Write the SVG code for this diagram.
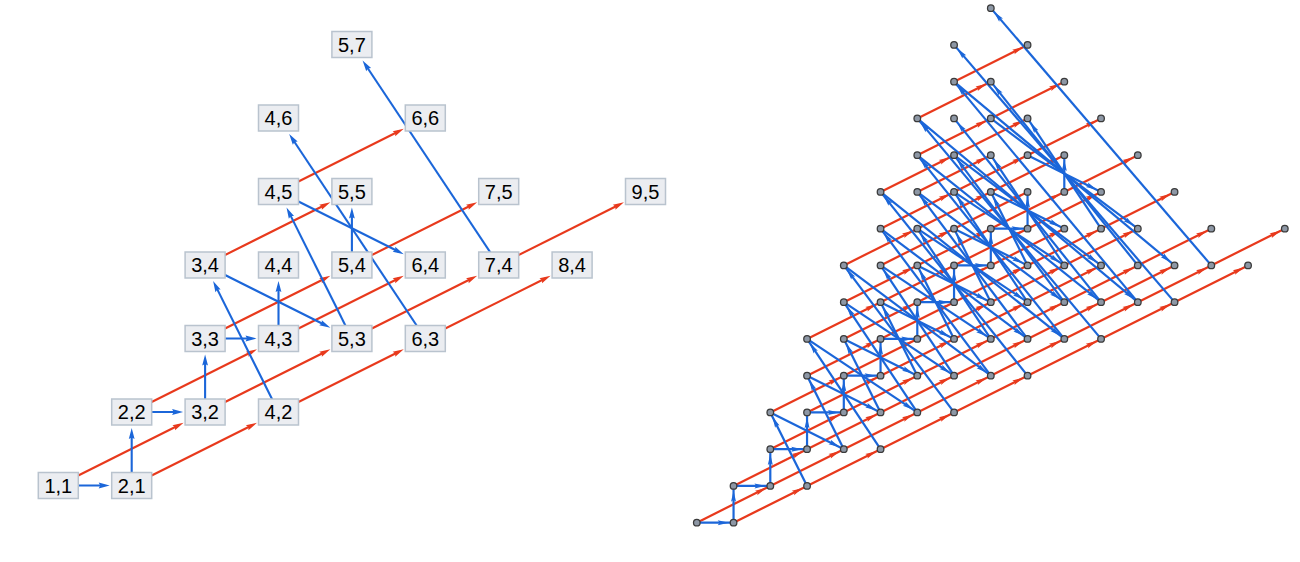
<svg xmlns="http://www.w3.org/2000/svg" width="1300" height="562" viewBox="0 0 1300 562">
<style>
.bg{fill:#ffffff}
.lr{stroke:#e8391c;stroke-width:2.1;fill:none;marker-end:url(#arR)}
.lb{stroke:#1b66d9;stroke-width:2.1;fill:none;marker-end:url(#arB)}
.ln rect{fill:#ebedf1;stroke:#b9c3ce;stroke-width:1.5}
.ln text{font-family:"Liberation Sans",Arial,sans-serif;font-size:20px;fill:#000;text-anchor:middle}
.rr{stroke:#e8391c;fill:none;marker-end:url(#rarR)}
.rb{stroke:#1b66d9;fill:none;marker-end:url(#rarB)}
</style>
<defs>
<marker id="arR" viewBox="-6 -4 13 8" refX="0" refY="0" markerWidth="13" markerHeight="8" markerUnits="userSpaceOnUse" orient="auto"><path d="M6,0 L-5,-2.9 L-3.5,0 L-5,2.9Z" fill="#e8391c"/></marker>
<marker id="arB" viewBox="-6 -4 13 8" refX="0" refY="0" markerWidth="13" markerHeight="8" markerUnits="userSpaceOnUse" orient="auto"><path d="M6,0 L-5,-2.9 L-3.5,0 L-5,2.9Z" fill="#1b66d9"/></marker>
<marker id="rarR" viewBox="-0.5 -0.1 0.5 0.2" refX="0" refY="0" markerWidth="0.5" markerHeight="0.2" markerUnits="userSpaceOnUse" orient="auto"><path d="M-0.13,0 L-0.43,-0.068 L-0.38,0 L-0.43,0.068Z" fill="#e8391c"/></marker>
<marker id="rarB" viewBox="-0.5 -0.1 0.5 0.2" refX="0" refY="0" markerWidth="0.5" markerHeight="0.2" markerUnits="userSpaceOnUse" orient="auto"><path d="M-0.13,0 L-0.43,-0.068 L-0.38,0 L-0.43,0.068Z" fill="#1b66d9"/></marker>
</defs>
<rect class="bg" x="0" y="0" width="1300" height="562"/>

<g id="left-connectors">
<line class="lr" x1="58.3" y1="485.5" x2="178.2" y2="425.5"/>
<line class="lr" x1="131.7" y1="485.5" x2="251.6" y2="425.5"/>
<line class="lr" x1="205.1" y1="412" x2="325" y2="352"/>
<line class="lr" x1="131.7" y1="412" x2="251.6" y2="352"/>
<line class="lr" x1="278.5" y1="412" x2="398.4" y2="352"/>
<line class="lr" x1="351.9" y1="338.5" x2="471.8" y2="278.5"/>
<line class="lr" x1="205.1" y1="338.5" x2="325" y2="278.5"/>
<line class="lr" x1="278.5" y1="338.5" x2="398.4" y2="278.5"/>
<line class="lr" x1="425.3" y1="338.5" x2="545.2" y2="278.5"/>
<line class="lr" x1="498.7" y1="265" x2="618.6" y2="205"/>
<line class="lr" x1="278.5" y1="191.5" x2="398.4" y2="131.5"/>
<line class="lr" x1="351.9" y1="265" x2="471.8" y2="205"/>
<line class="lr" x1="205.1" y1="265" x2="325" y2="205"/>
<line class="lb" x1="58.3" y1="485.5" x2="103.7" y2="485.5"/>
<line class="lb" x1="131.7" y1="485.5" x2="131.7" y2="434"/>
<line class="lb" x1="131.7" y1="412" x2="177.1" y2="412"/>
<line class="lb" x1="205.1" y1="412" x2="205.1" y2="360.5"/>
<line class="lb" x1="205.1" y1="338.5" x2="250.5" y2="338.5"/>
<line class="lb" x1="278.5" y1="338.5" x2="278.5" y2="287"/>
<line class="lb" x1="351.9" y1="265" x2="351.9" y2="213.5"/>
<line class="lb" x1="351.9" y1="338.5" x2="289.2" y2="212.9"/>
<line class="lb" x1="278.5" y1="412" x2="215.8" y2="286.4"/>
<line class="lb" x1="205.1" y1="265" x2="325" y2="325"/>
<line class="lb" x1="278.5" y1="191.5" x2="398.4" y2="251.5"/>
<line class="lb" x1="425.3" y1="338.5" x2="292.5" y2="139"/>
<line class="lb" x1="498.7" y1="265" x2="365.9" y2="65.5"/>
</g>

<g id="left-nodes">
<g id="n1_1" class="ln"><rect x="38.3" y="472.5" width="40" height="26"/><text x="58.3" y="492.6">1,1</text></g>
<g id="n2_1" class="ln"><rect x="111.7" y="472.5" width="40" height="26"/><text x="131.7" y="492.6">2,1</text></g>
<g id="n2_2" class="ln"><rect x="111.7" y="399" width="40" height="26"/><text x="131.7" y="419.1">2,2</text></g>
<g id="n3_2" class="ln"><rect x="185.1" y="399" width="40" height="26"/><text x="205.1" y="419.1">3,2</text></g>
<g id="n4_2" class="ln"><rect x="258.5" y="399" width="40" height="26"/><text x="278.5" y="419.1">4,2</text></g>
<g id="n3_3" class="ln"><rect x="185.1" y="325.5" width="40" height="26"/><text x="205.1" y="345.6">3,3</text></g>
<g id="n4_3" class="ln"><rect x="258.5" y="325.5" width="40" height="26"/><text x="278.5" y="345.6">4,3</text></g>
<g id="n5_3" class="ln"><rect x="331.9" y="325.5" width="40" height="26"/><text x="351.9" y="345.6">5,3</text></g>
<g id="n6_3" class="ln"><rect x="405.3" y="325.5" width="40" height="26"/><text x="425.3" y="345.6">6,3</text></g>
<g id="n3_4" class="ln"><rect x="185.1" y="252" width="40" height="26"/><text x="205.1" y="272.1">3,4</text></g>
<g id="n4_4" class="ln"><rect x="258.5" y="252" width="40" height="26"/><text x="278.5" y="272.1">4,4</text></g>
<g id="n5_4" class="ln"><rect x="331.9" y="252" width="40" height="26"/><text x="351.9" y="272.1">5,4</text></g>
<g id="n6_4" class="ln"><rect x="405.3" y="252" width="40" height="26"/><text x="425.3" y="272.1">6,4</text></g>
<g id="n7_4" class="ln"><rect x="478.7" y="252" width="40" height="26"/><text x="498.7" y="272.1">7,4</text></g>
<g id="n8_4" class="ln"><rect x="552.1" y="252" width="40" height="26"/><text x="572.1" y="272.1">8,4</text></g>
<g id="n4_5" class="ln"><rect x="258.5" y="178.5" width="40" height="26"/><text x="278.5" y="198.6">4,5</text></g>
<g id="n5_5" class="ln"><rect x="331.9" y="178.5" width="40" height="26"/><text x="351.9" y="198.6">5,5</text></g>
<g id="n7_5" class="ln"><rect x="478.7" y="178.5" width="40" height="26"/><text x="498.7" y="198.6">7,5</text></g>
<g id="n9_5" class="ln"><rect x="625.5" y="178.5" width="40" height="26"/><text x="645.5" y="198.6">9,5</text></g>
<g id="n4_6" class="ln"><rect x="258.5" y="105" width="40" height="26"/><text x="278.5" y="125.1">4,6</text></g>
<g id="n6_6" class="ln"><rect x="405.3" y="105" width="40" height="26"/><text x="425.3" y="125.1">6,6</text></g>
<g id="n5_7" class="ln"><rect x="331.9" y="31.5" width="40" height="26"/><text x="351.9" y="51.6">5,7</text></g>
</g>

<g id="right-graph" transform="matrix(36.75 0 0 -36.75 660.05 559.4)">
<g id="right-connectors" stroke-width="0.06">
<line class="rr" x1="1" y1="1" x2="3" y2="2"/>
<line class="rr" x1="3" y1="2" x2="5" y2="3"/>
<line class="rr" x1="2" y1="1" x2="4" y2="2"/>
<line class="rr" x1="5" y1="3" x2="7" y2="4"/>
<line class="rr" x1="3" y1="3" x2="5" y2="4"/>
<line class="rr" x1="4" y1="2" x2="6" y2="3"/>
<line class="rr" x1="2" y1="2" x2="4" y2="3"/>
<line class="rr" x1="7" y1="4" x2="9" y2="5"/>
<line class="rr" x1="4" y1="5" x2="6" y2="6"/>
<line class="rr" x1="5" y1="4" x2="7" y2="5"/>
<line class="rr" x1="4" y1="3" x2="6" y2="4"/>
<line class="rr" x1="6" y1="3" x2="8" y2="4"/>
<line class="rr" x1="3" y1="4" x2="5" y2="5"/>
<line class="rr" x1="9" y1="5" x2="11" y2="6"/>
<line class="rr" x1="5" y1="7" x2="7" y2="8"/>
<line class="rr" x1="6" y1="6" x2="8" y2="7"/>
<line class="rr" x1="6" y1="4" x2="8" y2="5"/>
<line class="rr" x1="7" y1="5" x2="9" y2="6"/>
<line class="rr" x1="5" y1="5" x2="7" y2="6"/>
<line class="rr" x1="4" y1="4" x2="6" y2="5"/>
<line class="rr" x1="8" y1="4" x2="10" y2="5"/>
<line class="rr" x1="4" y1="6" x2="6" y2="7"/>
<line class="rr" x1="11" y1="6" x2="13" y2="7"/>
<line class="rr" x1="6" y1="9" x2="8" y2="10"/>
<line class="rr" x1="7" y1="8" x2="9" y2="9"/>
<line class="rr" x1="8" y1="5" x2="10" y2="6"/>
<line class="rr" x1="8" y1="7" x2="10" y2="8"/>
<line class="rr" x1="7" y1="6" x2="9" y2="7"/>
<line class="rr" x1="5" y1="6" x2="7" y2="7"/>
<line class="rr" x1="9" y1="6" x2="11" y2="7"/>
<line class="rr" x1="6" y1="7" x2="8" y2="8"/>
<line class="rr" x1="6" y1="5" x2="8" y2="6"/>
<line class="rr" x1="10" y1="5" x2="12" y2="6"/>
<line class="rr" x1="5" y1="8" x2="7" y2="9"/>
<line class="rr" x1="13" y1="7" x2="15" y2="8"/>
<line class="rr" x1="7" y1="11" x2="9" y2="12"/>
<line class="rr" x1="8" y1="10" x2="10" y2="11"/>
<line class="rr" x1="10" y1="6" x2="12" y2="7"/>
<line class="rr" x1="9" y1="9" x2="11" y2="10"/>
<line class="rr" x1="9" y1="7" x2="11" y2="8"/>
<line class="rr" x1="6" y1="8" x2="8" y2="9"/>
<line class="rr" x1="10" y1="8" x2="12" y2="9"/>
<line class="rr" x1="8" y1="8" x2="10" y2="9"/>
<line class="rr" x1="7" y1="7" x2="9" y2="8"/>
<line class="rr" x1="11" y1="7" x2="13" y2="8"/>
<line class="rr" x1="7" y1="9" x2="9" y2="10"/>
<line class="rr" x1="8" y1="6" x2="10" y2="7"/>
<line class="rr" x1="12" y1="6" x2="14" y2="7"/>
<line class="rr" x1="6" y1="10" x2="8" y2="11"/>
<line class="rr" x1="15" y1="8" x2="17" y2="9"/>
<line class="rr" x1="8" y1="13" x2="10" y2="14"/>
<line class="rr" x1="9" y1="12" x2="11" y2="13"/>
<line class="rr" x1="12" y1="7" x2="14" y2="8"/>
<line class="rr" x1="10" y1="11" x2="12" y2="12"/>
<line class="rr" x1="11" y1="8" x2="13" y2="9"/>
<line class="rr" x1="7" y1="10" x2="9" y2="11"/>
<line class="rr" x1="11" y1="10" x2="13" y2="11"/>
<line class="rr" x1="10" y1="9" x2="12" y2="10"/>
<line class="rr" x1="8" y1="9" x2="10" y2="10"/>
<line class="rr" x1="12" y1="9" x2="14" y2="10"/>
<line class="rr" x1="9" y1="10" x2="11" y2="11"/>
<line class="rr" x1="9" y1="8" x2="11" y2="9"/>
<line class="rr" x1="13" y1="8" x2="15" y2="9"/>
<line class="rr" x1="8" y1="11" x2="10" y2="12"/>
<line class="rr" x1="10" y1="7" x2="12" y2="8"/>
<line class="rr" x1="14" y1="7" x2="16" y2="8"/>
<line class="rr" x1="7" y1="12" x2="9" y2="13"/>
<line class="rb" x1="1" y1="1" x2="2" y2="1"/>
<line class="rb" x1="3" y1="2" x2="3" y2="3"/>
<line class="rb" x1="2" y1="1" x2="2" y2="2"/>
<line class="rb" x1="5" y1="3" x2="4" y2="5"/>
<line class="rb" x1="3" y1="3" x2="4" y2="3"/>
<line class="rb" x1="4" y1="2" x2="3" y2="4"/>
<line class="rb" x1="2" y1="2" x2="3" y2="2"/>
<line class="rb" x1="7" y1="4" x2="5" y2="7"/>
<line class="rb" x1="4" y1="5" x2="6" y2="4"/>
<line class="rb" x1="5" y1="4" x2="5" y2="5"/>
<line class="rb" x1="4" y1="3" x2="4" y2="4"/>
<line class="rb" x1="6" y1="3" x2="4" y2="6"/>
<line class="rb" x1="3" y1="4" x2="5" y2="3"/>
<line class="rb" x1="9" y1="5" x2="6" y2="9"/>
<line class="rb" x1="5" y1="7" x2="8" y2="5"/>
<line class="rb" x1="6" y1="6" x2="7" y2="6"/>
<line class="rb" x1="6" y1="4" x2="5" y2="6"/>
<line class="rb" x1="7" y1="5" x2="6" y2="7"/>
<line class="rb" x1="5" y1="5" x2="6" y2="5"/>
<line class="rb" x1="4" y1="4" x2="5" y2="4"/>
<line class="rb" x1="8" y1="4" x2="5" y2="8"/>
<line class="rb" x1="4" y1="6" x2="7" y2="4"/>
<line class="rb" x1="11" y1="6" x2="7" y2="11"/>
<line class="rb" x1="6" y1="9" x2="10" y2="6"/>
<line class="rb" x1="7" y1="8" x2="9" y2="7"/>
<line class="rb" x1="8" y1="5" x2="6" y2="8"/>
<line class="rb" x1="8" y1="7" x2="8" y2="8"/>
<line class="rb" x1="7" y1="6" x2="7" y2="7"/>
<line class="rb" x1="5" y1="6" x2="7" y2="5"/>
<line class="rb" x1="9" y1="6" x2="7" y2="9"/>
<line class="rb" x1="6" y1="7" x2="8" y2="6"/>
<line class="rb" x1="6" y1="5" x2="6" y2="6"/>
<line class="rb" x1="10" y1="5" x2="6" y2="10"/>
<line class="rb" x1="5" y1="8" x2="9" y2="5"/>
<line class="rb" x1="13" y1="7" x2="8" y2="13"/>
<line class="rb" x1="7" y1="11" x2="12" y2="7"/>
<line class="rb" x1="8" y1="10" x2="11" y2="8"/>
<line class="rb" x1="10" y1="6" x2="7" y2="10"/>
<line class="rb" x1="9" y1="9" x2="10" y2="9"/>
<line class="rb" x1="9" y1="7" x2="8" y2="9"/>
<line class="rb" x1="6" y1="8" x2="9" y2="6"/>
<line class="rb" x1="10" y1="8" x2="9" y2="10"/>
<line class="rb" x1="8" y1="8" x2="9" y2="8"/>
<line class="rb" x1="7" y1="7" x2="8" y2="7"/>
<line class="rb" x1="11" y1="7" x2="8" y2="11"/>
<line class="rb" x1="7" y1="9" x2="10" y2="7"/>
<line class="rb" x1="8" y1="6" x2="7" y2="8"/>
<line class="rb" x1="12" y1="6" x2="7" y2="12"/>
<line class="rb" x1="6" y1="10" x2="11" y2="6"/>
<line class="rb" x1="15" y1="8" x2="9" y2="15"/>
<line class="rb" x1="8" y1="13" x2="14" y2="8"/>
<line class="rb" x1="9" y1="12" x2="13" y2="9"/>
<line class="rb" x1="12" y1="7" x2="8" y2="12"/>
<line class="rb" x1="10" y1="11" x2="12" y2="10"/>
<line class="rb" x1="11" y1="8" x2="9" y2="11"/>
<line class="rb" x1="7" y1="10" x2="11" y2="7"/>
<line class="rb" x1="11" y1="10" x2="11" y2="11"/>
<line class="rb" x1="10" y1="9" x2="10" y2="10"/>
<line class="rb" x1="8" y1="9" x2="10" y2="8"/>
<line class="rb" x1="12" y1="9" x2="10" y2="12"/>
<line class="rb" x1="9" y1="10" x2="11" y2="9"/>
<line class="rb" x1="9" y1="8" x2="9" y2="9"/>
<line class="rb" x1="13" y1="8" x2="9" y2="13"/>
<line class="rb" x1="8" y1="11" x2="12" y2="8"/>
<line class="rb" x1="10" y1="7" x2="8" y2="10"/>
<line class="rb" x1="14" y1="7" x2="8" y2="14"/>
<line class="rb" x1="7" y1="12" x2="13" y2="7"/>
</g>
<g id="right-nodes" fill="#8d97a5" stroke="#3b3b3b" stroke-width="0.035">
<g id="r1_1"><circle cx="1" cy="1" r="0.09"/></g>
<g id="r3_2"><circle cx="3" cy="2" r="0.09"/></g>
<g id="r2_1"><circle cx="2" cy="1" r="0.09"/></g>
<g id="r5_3"><circle cx="5" cy="3" r="0.09"/></g>
<g id="r3_3"><circle cx="3" cy="3" r="0.09"/></g>
<g id="r4_2"><circle cx="4" cy="2" r="0.09"/></g>
<g id="r2_2"><circle cx="2" cy="2" r="0.09"/></g>
<g id="r7_4"><circle cx="7" cy="4" r="0.09"/></g>
<g id="r4_5"><circle cx="4" cy="5" r="0.09"/></g>
<g id="r5_4"><circle cx="5" cy="4" r="0.09"/></g>
<g id="r4_3"><circle cx="4" cy="3" r="0.09"/></g>
<g id="r6_3"><circle cx="6" cy="3" r="0.09"/></g>
<g id="r3_4"><circle cx="3" cy="4" r="0.09"/></g>
<g id="r9_5"><circle cx="9" cy="5" r="0.09"/></g>
<g id="r5_7"><circle cx="5" cy="7" r="0.09"/></g>
<g id="r6_6"><circle cx="6" cy="6" r="0.09"/></g>
<g id="r6_4"><circle cx="6" cy="4" r="0.09"/></g>
<g id="r7_5"><circle cx="7" cy="5" r="0.09"/></g>
<g id="r5_5"><circle cx="5" cy="5" r="0.09"/></g>
<g id="r4_4"><circle cx="4" cy="4" r="0.09"/></g>
<g id="r8_4"><circle cx="8" cy="4" r="0.09"/></g>
<g id="r4_6"><circle cx="4" cy="6" r="0.09"/></g>
<g id="r11_6"><circle cx="11" cy="6" r="0.09"/></g>
<g id="r6_9"><circle cx="6" cy="9" r="0.09"/></g>
<g id="r7_8"><circle cx="7" cy="8" r="0.09"/></g>
<g id="r8_5"><circle cx="8" cy="5" r="0.09"/></g>
<g id="r8_7"><circle cx="8" cy="7" r="0.09"/></g>
<g id="r7_6"><circle cx="7" cy="6" r="0.09"/></g>
<g id="r5_6"><circle cx="5" cy="6" r="0.09"/></g>
<g id="r9_6"><circle cx="9" cy="6" r="0.09"/></g>
<g id="r6_7"><circle cx="6" cy="7" r="0.09"/></g>
<g id="r6_5"><circle cx="6" cy="5" r="0.09"/></g>
<g id="r10_5"><circle cx="10" cy="5" r="0.09"/></g>
<g id="r5_8"><circle cx="5" cy="8" r="0.09"/></g>
<g id="r13_7"><circle cx="13" cy="7" r="0.09"/></g>
<g id="r7_11"><circle cx="7" cy="11" r="0.09"/></g>
<g id="r8_10"><circle cx="8" cy="10" r="0.09"/></g>
<g id="r10_6"><circle cx="10" cy="6" r="0.09"/></g>
<g id="r9_9"><circle cx="9" cy="9" r="0.09"/></g>
<g id="r9_7"><circle cx="9" cy="7" r="0.09"/></g>
<g id="r6_8"><circle cx="6" cy="8" r="0.09"/></g>
<g id="r10_8"><circle cx="10" cy="8" r="0.09"/></g>
<g id="r8_8"><circle cx="8" cy="8" r="0.09"/></g>
<g id="r7_7"><circle cx="7" cy="7" r="0.09"/></g>
<g id="r11_7"><circle cx="11" cy="7" r="0.09"/></g>
<g id="r7_9"><circle cx="7" cy="9" r="0.09"/></g>
<g id="r8_6"><circle cx="8" cy="6" r="0.09"/></g>
<g id="r12_6"><circle cx="12" cy="6" r="0.09"/></g>
<g id="r6_10"><circle cx="6" cy="10" r="0.09"/></g>
<g id="r15_8"><circle cx="15" cy="8" r="0.09"/></g>
<g id="r8_13"><circle cx="8" cy="13" r="0.09"/></g>
<g id="r9_12"><circle cx="9" cy="12" r="0.09"/></g>
<g id="r12_7"><circle cx="12" cy="7" r="0.09"/></g>
<g id="r10_11"><circle cx="10" cy="11" r="0.09"/></g>
<g id="r11_8"><circle cx="11" cy="8" r="0.09"/></g>
<g id="r7_10"><circle cx="7" cy="10" r="0.09"/></g>
<g id="r11_10"><circle cx="11" cy="10" r="0.09"/></g>
<g id="r10_9"><circle cx="10" cy="9" r="0.09"/></g>
<g id="r8_9"><circle cx="8" cy="9" r="0.09"/></g>
<g id="r12_9"><circle cx="12" cy="9" r="0.09"/></g>
<g id="r9_10"><circle cx="9" cy="10" r="0.09"/></g>
<g id="r9_8"><circle cx="9" cy="8" r="0.09"/></g>
<g id="r13_8"><circle cx="13" cy="8" r="0.09"/></g>
<g id="r8_11"><circle cx="8" cy="11" r="0.09"/></g>
<g id="r10_7"><circle cx="10" cy="7" r="0.09"/></g>
<g id="r14_7"><circle cx="14" cy="7" r="0.09"/></g>
<g id="r7_12"><circle cx="7" cy="12" r="0.09"/></g>
<g id="r17_9"><circle cx="17" cy="9" r="0.09"/></g>
<g id="r9_15"><circle cx="9" cy="15" r="0.09"/></g>
<g id="r10_14"><circle cx="10" cy="14" r="0.09"/></g>
<g id="r14_8"><circle cx="14" cy="8" r="0.09"/></g>
<g id="r11_13"><circle cx="11" cy="13" r="0.09"/></g>
<g id="r13_9"><circle cx="13" cy="9" r="0.09"/></g>
<g id="r8_12"><circle cx="8" cy="12" r="0.09"/></g>
<g id="r12_12"><circle cx="12" cy="12" r="0.09"/></g>
<g id="r12_10"><circle cx="12" cy="10" r="0.09"/></g>
<g id="r9_11"><circle cx="9" cy="11" r="0.09"/></g>
<g id="r13_11"><circle cx="13" cy="11" r="0.09"/></g>
<g id="r11_11"><circle cx="11" cy="11" r="0.09"/></g>
<g id="r10_10"><circle cx="10" cy="10" r="0.09"/></g>
<g id="r14_10"><circle cx="14" cy="10" r="0.09"/></g>
<g id="r10_12"><circle cx="10" cy="12" r="0.09"/></g>
<g id="r11_9"><circle cx="11" cy="9" r="0.09"/></g>
<g id="r15_9"><circle cx="15" cy="9" r="0.09"/></g>
<g id="r9_13"><circle cx="9" cy="13" r="0.09"/></g>
<g id="r12_8"><circle cx="12" cy="8" r="0.09"/></g>
<g id="r16_8"><circle cx="16" cy="8" r="0.09"/></g>
<g id="r8_14"><circle cx="8" cy="14" r="0.09"/></g>
</g>
</g>
</svg>
